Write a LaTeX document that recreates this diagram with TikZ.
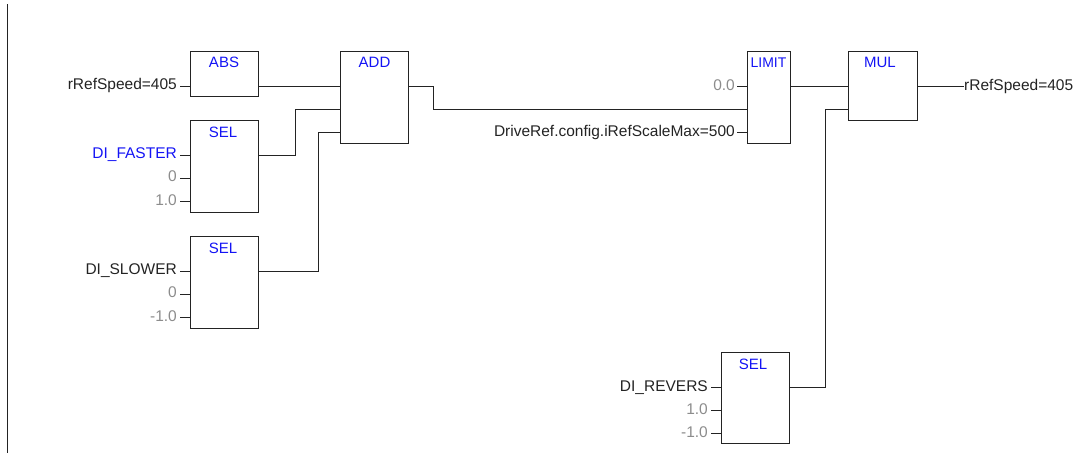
\documentclass[tikz,border=0pt]{standalone}
\usepackage{fontspec}
\setmainfont{Liberation Sans}
\definecolor{wire}{RGB}{35,35,35}
\definecolor{fbblue}{RGB}{20,20,245}
\definecolor{constgray}{RGB}{140,140,140}
\tikzset{
  x=1pt,y=-1pt,
  fb/.style={draw=wire,line width=1.6pt,fill=white,inner sep=0pt,outer sep=0pt},
  wirepath/.style={draw=wire,line width=1.6pt},
  title/.style={text=fbblue,font=\fontsize{15}{15}\selectfont,inner sep=0pt,anchor=base},
  inlab/.style={text=wire,font=\fontsize{15.5}{15}\selectfont,inner sep=0pt,anchor=base east},
  outlab/.style={text=wire,font=\fontsize{15.5}{15}\selectfont,inner sep=0pt,anchor=base west},
  bluelab/.style={inlab,text=fbblue},
  graylab/.style={inlab,text=constgray},
}
\begin{document}
\begin{tikzpicture}
\useasboundingbox (0,0) rectangle (1074,453);
\coordinate (bt) at (7.5,4);
\coordinate (bb) at (7.5,453);
\draw[wirepath] (bt) -- (bb);

% blocks
\node[fb,minimum width=68pt,minimum height=45pt] (abs) at (224.5,74) {};
\node[fb,minimum width=68pt,minimum height=92pt] (sela) at (224.5,166.5) {};
\node[fb,minimum width=68pt,minimum height=92pt] (selb) at (224.5,282.5) {};
\node[fb,minimum width=68pt,minimum height=92pt] (add) at (374.5,97.5) {};
\node[fb,minimum width=43pt,minimum height=92pt] (limit) at (769,97.5) {};
\node[fb,minimum width=69pt,minimum height=69pt] (mul) at (883,86) {};
\node[fb,minimum width=68pt,minimum height=91pt] (selc) at (755.5,398) {};

% titles
\node[title] (tabs) at (224,67.5) {ABS};
\node[title] (tsela) at (223,137.5) {SEL};
\node[title] (tselb) at (223,253.5) {SEL};
\node[title] (tadd) at (374.5,67.5) {ADD};
\node[title,font=\fontsize{14}{15}\selectfont] (tlimit) at (768.5,67.5) {LIMIT};
\node[title] (tmul) at (880,67.5) {MUL};
\node[title] (tselc) at (753,369.5) {SEL};

% input labels
\node[inlab] (l1) at (177,89) {rRefSpeed=405};
\node[bluelab] (l2) at (177,158) {DI\_FASTER};
\node[graylab] (l3) at (177,181) {0};
\node[graylab] (l4) at (177,205) {1.0};
\node[inlab] (l5) at (177,274) {DI\_SLOWER};
\node[graylab] (l6) at (177,297) {0};
\node[graylab] (l7) at (177,321) {-1.0};
\node[graylab] (l8) at (735,90) {0.0};
\node[inlab] (l9) at (735,136) {DriveRef.config.iRefScaleMax=500};
\node[inlab] (l10) at (708,391) {DI\_REVERS};
\node[graylab] (l11) at (708,414) {1.0};
\node[graylab] (l12) at (708,437) {-1.0};
\node[outlab] (out) at (964,90) {rRefSpeed=405};

% stubs
\draw[wirepath] (180,86.5) -- (abs.west |- 0,86.5);
\draw[wirepath] (180,155.5) -- (sela.west |- 0,155.5);
\draw[wirepath] (180,178.5) -- (sela.west |- 0,178.5);
\draw[wirepath] (180,201.5) -- (sela.west |- 0,201.5);
\draw[wirepath] (180,271.5) -- (selb.west |- 0,271.5);
\draw[wirepath] (180,294.5) -- (selb.west |- 0,294.5);
\draw[wirepath] (180,317.5) -- (selb.west |- 0,317.5);
\draw[wirepath] (737,86.5) -- (limit.west |- 0,86.5);
\draw[wirepath] (737,132.5) -- (limit.west |- 0,132.5);
\draw[wirepath] (711,387.5) -- (selc.west |- 0,387.5);
\draw[wirepath] (711,410.5) -- (selc.west |- 0,410.5);
\draw[wirepath] (711,433.5) -- (selc.west |- 0,433.5);

% connectors
\draw[wirepath] (abs.east |- 0,86.5) -- (add.west |- 0,86.5);
\draw[wirepath] (sela.east |- 0,155.5) -| (295.5,109.5) -- (add.west |- 0,109.5);
\draw[wirepath] (selb.east |- 0,271.5) -| (318.5,132.5) -- (add.west |- 0,132.5);
\draw[wirepath] (add.east |- 0,86.5) -| (433.5,109.5) -- (limit.west |- 0,109.5);
\draw[wirepath] (limit.east |- 0,86.5) -- (mul.west |- 0,86.5);
\draw[wirepath] (selc.east |- 0,387.5) -| (825.5,109.5) -- (mul.west |- 0,109.5);
\draw[wirepath] (mul.east |- 0,86.5) -- (out.west |- 0,86.5);
\end{tikzpicture}
\end{document}
